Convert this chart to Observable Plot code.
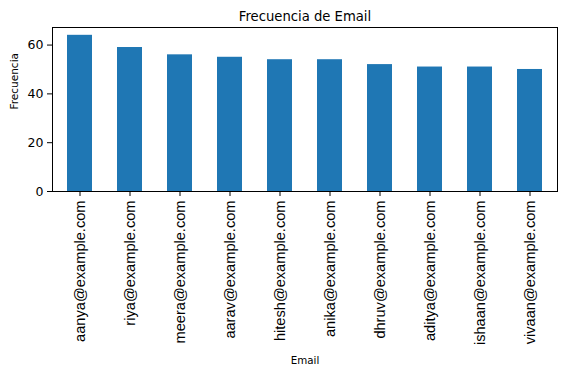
<!DOCTYPE html>
<html>
<head>
<meta charset="utf-8">
<script src="https://cdn.jsdelivr.net/npm/d3@7"></script>
<script src="https://cdn.jsdelivr.net/npm/@observablehq/plot@0.6"></script>
<style>
  html, body { margin: 0; padding: 0; background: #fff; }
  #chart svg { display: block; }
</style>
</head>
<body>
<div id="chart"></div>
<script>
const emails = ["aanya@example.com","riya@example.com","meera@example.com","aarav@example.com","hitesh@example.com","anika@example.com","dhruv@example.com","aditya@example.com","ishaan@example.com","vivaan@example.com"];
const counts = [64, 59, 56, 55, 54, 54, 52, 51, 51, 50];
const yTicks = [0, 20, 40, 60];
const titleText = "Frecuencia de Email";
const xLabel = "Email";
const yLabel = "Frecuencia";

const data = emails.map((e, i) => ({email: e, count: counts[i]}));
const font = "DejaVu Sans, sans-serif";
const tickFont = "Liberation Sans, Arial, sans-serif";

const chart = Plot.plot({
  width: 566,
  height: 374,
  marginLeft: 52,
  marginRight: 9,
  marginTop: 27,
  marginBottom: 183,
  style: {fontFamily: font, background: "#fff", color: "#000", overflow: "visible"},
  x: {domain: emails, paddingInner: 0.5, paddingOuter: 0.25, label: null},
  y: {domain: [0, 67.2], label: null},
  marks: [
    Plot.barY(data, {x: "email", y: "count", fill: "#1f77b4"}),
    Plot.axisY({ticks: yTicks, tickSize: 5, tickPadding: 4, fontSize: 12.5, stroke: "#000", strokeOpacity: 1, tickFormat: d => d, fill: "#000"}),
    Plot.axisX({tickSize: 5, tickPadding: 4, tickRotate: -90, fontSize: 14.6, fontFamily: tickFont, stroke: "#000", strokeOpacity: 1, fill: "#000"}),
    Plot.frame({stroke: "#000", strokeWidth: 1}),
    Plot.text([titleText], {frameAnchor: "top", dy: -7, fontSize: 13.2, fill: "#000", lineAnchor: "bottom"}),
    Plot.text([xLabel], {frameAnchor: "bottom", dy: 172, fontSize: 10.3, fill: "#000", lineAnchor: "bottom"}),
    Plot.text([yLabel], {frameAnchor: "left", dx: -38, rotate: -90, fontSize: 10.5, fill: "#000"})
  ]
});
document.getElementById("chart").appendChild(chart);
</script>
</body>
</html>
